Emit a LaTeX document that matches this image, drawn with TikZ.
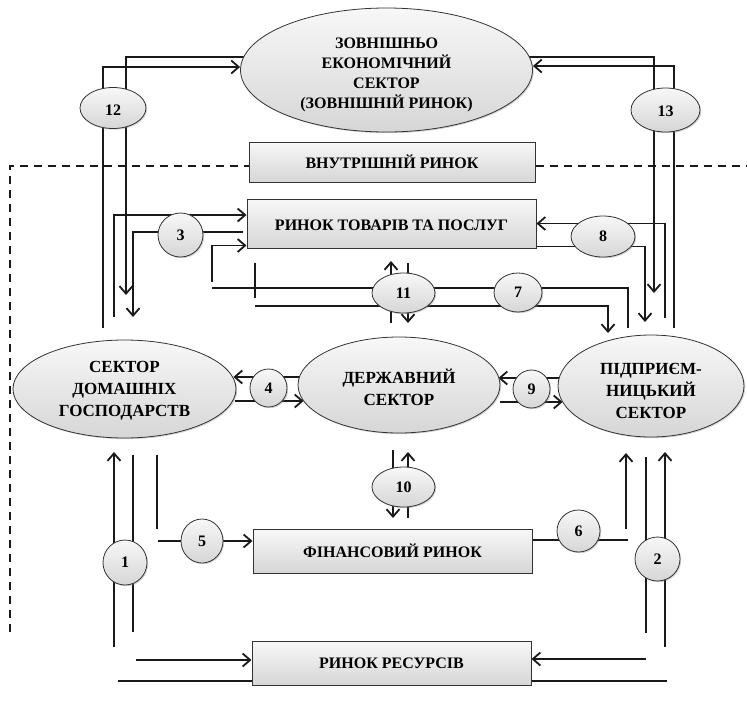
\documentclass[tikz,border=0pt]{standalone}
\usepackage{fontspec}
\setmainfont{Liberation Serif}[BoldFont={Liberation Serif Bold}]
\usetikzlibrary{shapes.geometric,arrows.meta,shadows,calc}
\pgfdeclarelayer{bg}
\pgfsetlayers{bg,main}
\newcommand{\mlt}[2][0pt]{\raisebox{#1}[\height][\depth]{\begin{tabular}{@{}c@{}}#2\end{tabular}}}
\newcommand{\lowr}[2]{\raisebox{#1}[\height][\depth]{#2}}
\begin{document}
\begin{tikzpicture}[x=1pt,y=-1pt,
  txt/.style={font=\fontsize{16}{20}\selectfont\bfseries, text=black},
  bigtxt/.style={font=\fontsize{17}{22}\selectfont\bfseries, text=black},
  shade/.style={top color=gray!6, bottom color=gray!32},
  shad/.style={drop shadow={shadow xshift=1.2pt,shadow yshift=-1.2pt,opacity=0.35}},
  sector/.style={ellipse, draw=black!80, line width=0.8pt, shade, inner sep=0pt, bigtxt, shad},
  extsector/.style={ellipse, draw=black!80, line width=0.8pt, shade, inner sep=0pt, txt, shad},
  market/.style={rectangle, draw=black!80, line width=1pt, shade, inner sep=0pt, txt, shad},
  num/.style={ellipse, draw=black!80, line width=0.8pt, shade, inner sep=0pt, txt, shad},
  flow/.style={line width=1.8pt, black!90},
  arr/.style={flow, -{Straight Barb[length=7.5pt,width=13pt]}},
  border/.style={line width=1.6pt, black!90, dash pattern=on 8pt off 6pt}
]
\path[use as bounding box] (0,0) rectangle (747,702);

% main nodes
\node[extsector, minimum width=292pt, minimum height=124pt] (ext) at (386.5,70) {\mlt[-4pt]{ЗОВНІШНЬО\\ЕКОНОМІЧНИЙ\\СЕКТОР\\(ЗОВНІШНІЙ РИНОК)}};
\node[market, minimum width=286pt, minimum height=40pt] (inner) at (392,162) {ВНУТРІШНІЙ РИНОК};
\node[market, minimum width=289pt, minimum height=49pt] (goods) at (391.5,223.5) {\lowr{-2pt}{РИНОК ТОВАРІВ ТА ПОСЛУГ}};
\node[sector, minimum width=223pt, minimum height=98pt] (hh) at (124.5,389) {\mlt[-1pt]{СЕКТОР\\ДОМАШНІХ\\ГОСПОДАРСТВ}};
\node[sector, minimum width=202pt, minimum height=96pt] (gov) at (399,385) {\mlt[-5pt]{ДЕРЖАВНИЙ\\СЕКТОР}};
\node[sector, minimum width=186pt, minimum height=102pt] (ent) at (651,386) {\mlt[-6pt]{ПІДПРИЄМ-\\НИЦЬКИЙ\\СЕКТОР}};
\node[market, minimum width=279pt, minimum height=44pt] (fin) at (392.5,551) {ФІНАНСОВИЙ РИНОК};
\node[market, minimum width=279pt, minimum height=44pt] (res) at (391.5,663) {РИНОК РЕСУРСІВ};

% number nodes
\node[num, minimum width=66pt, minimum height=41pt] (n12) at (113,108) {\lowr{-2pt}{12}};
\node[num, minimum width=69pt, minimum height=44pt] (n13) at (665.5,110) {\lowr{-1pt}{13}};
\node[num, minimum width=45pt, minimum height=44pt] (n3) at (180.5,235) {3};
\node[num, minimum width=64pt, minimum height=41pt] (n8) at (603,236.5) {8};
\node[num, minimum width=63pt, minimum height=40pt] (n11) at (403.5,293) {11};
\node[num, minimum width=48pt, minimum height=39pt] (n7) at (518,292.5) {7};
\node[num, minimum width=37pt, minimum height=38pt] (n4) at (268.5,388) {4};
\node[num, minimum width=37pt, minimum height=38pt] (n9) at (531.5,389) {9};
\node[num, minimum width=63pt, minimum height=40pt] (n10) at (403.5,487) {10};
\node[num, minimum width=42pt, minimum height=44pt] (n5) at (202,541) {5};
\node[num, minimum width=43pt, minimum height=42pt] (n6) at (578.5,531) {6};
\node[num, minimum width=44pt, minimum height=45pt] (n1) at (125,562.5) {1};
\node[num, minimum width=45pt, minimum height=44pt] (n2) at (657.5,559) {2};

% free ends
\coordinate (dA) at (10,632);
\coordinate (dB) at (747,166);
\coordinate (a12) at (103,328);
\coordinate (b12) at (126,295);
\coordinate (a3) at (114,317);
\coordinate (b3) at (133,317);
\coordinate (c3) at (212,282);
\coordinate (a7s) at (212,288);
\coordinate (a7e) at (628,328);
\coordinate (b7s) at (255,306);
\coordinate (b7e) at (608,333);
\coordinate (t1) at (255,263);
\coordinate (t2) at (255,298);
\coordinate (u11a) at (391,323);
\coordinate (u11b) at (391,261);
\coordinate (d11a) at (408,263);
\coordinate (d11b) at (408,323);
\coordinate (d10a) at (393,450);
\coordinate (d10b) at (393,518);
\coordinate (u10a) at (408,518);
\coordinate (u10b) at (408,452);
\coordinate (a8) at (665,318);
\coordinate (b8) at (645,322);
\coordinate (a13) at (654,293);
\coordinate (b13) at (674,328);
\coordinate (v5a) at (157,455);
\coordinate (v5b) at (157,529);
\coordinate (h5) at (158,541);
\coordinate (h6) at (628,540);
\coordinate (v6a) at (626,529);
\coordinate (v6b) at (626,453);
\coordinate (u1a) at (114,647);
\coordinate (u1b) at (114,452);
\coordinate (l1a) at (133,455);
\coordinate (l1b) at (133,632);
\coordinate (l2a) at (646,457);
\coordinate (l2b) at (646,633);
\coordinate (u2a) at (665,647);
\coordinate (u2b) at (665,452);
\coordinate (r1) at (136,660);
\coordinate (r2) at (118,681);
\coordinate (r3) at (646,659);
\coordinate (r4) at (667,681);

\begin{pgfonlayer}{bg}
% dashed boundary of the internal market
\draw[border] (dA) |- ([yshift=-4pt]inner.west);
\draw[border] ([yshift=-4pt]inner.east) -- (dB);

% 12
\draw[arr] (a12) |- ([yshift=3pt]ext.west);
\draw[arr] ([shift={(8pt,13pt)}]ext.west) -| (b12);
% 13
\draw[arr] ([shift={(-8pt,13pt)}]ext.east) -| (a13);
\draw[arr] (b13) |- ([yshift=4pt]ext.east);
% 3
\draw[arr] (a3) |- ([yshift=8.5pt]goods.west);
\draw[arr] ([shift={(-4pt,-8.5pt)}]goods.west) -| (b3);
\draw[arr] (c3) |- ([yshift=-22pt]goods.west);
% 8
\draw[arr] (a8) |- (goods.east);
\draw[arr] ([yshift=-23pt]goods.east) -| (b8);
% 11, 7
\draw[flow] (a7s) -| (a7e);
\draw[arr] (b7s) -| (b7e);
\draw[flow] (t1) -- (t2);
\draw[arr] (u11a) -- (u11b);
\draw[arr] (d11a) -- (d11b);
% 10
\draw[arr] (d10a) -- (d10b);
\draw[arr] (u10a) -- (u10b);
% 4
\draw[arr] ([shift={(6pt,8pt)}]gov.west) -- ([shift={(-3pt,12pt)}]hh.east);
\draw[arr] ([shift={(-1pt,-12pt)}]hh.east) -- ([shift={(6pt,-16pt)}]gov.west);
% 9
\draw[arr] ([shift={(5pt,8pt)}]ent.west) -- ([shift={(-2pt,7pt)}]gov.east);
\draw[arr] ([shift={(0pt,-17pt)}]gov.east) -- ([shift={(5pt,-16pt)}]ent.west);
% 5
\draw[flow] (v5a) -- (v5b);
\draw[arr] (h5) -- ([yshift=10pt]fin.west);
% 6
\draw[flow] ([yshift=11pt]fin.east) -- (h6);
\draw[arr] (v6a) -- (v6b);
% 1
\draw[arr] (u1a) -- (u1b);
\draw[flow] (l1a) -- (l1b);
% 2
\draw[flow] (l2a) -- (l2b);
\draw[arr] (u2a) -- (u2b);
% resources
\draw[arr] (r1) -- ([yshift=3pt]res.west);
\draw[flow] (r2) -- ([yshift=-18pt]res.west);
\draw[arr] (r3) -- ([yshift=4pt]res.east);
\draw[flow] ([yshift=-18pt]res.east) -- (r4);
\end{pgfonlayer}
\end{tikzpicture}
\end{document}
